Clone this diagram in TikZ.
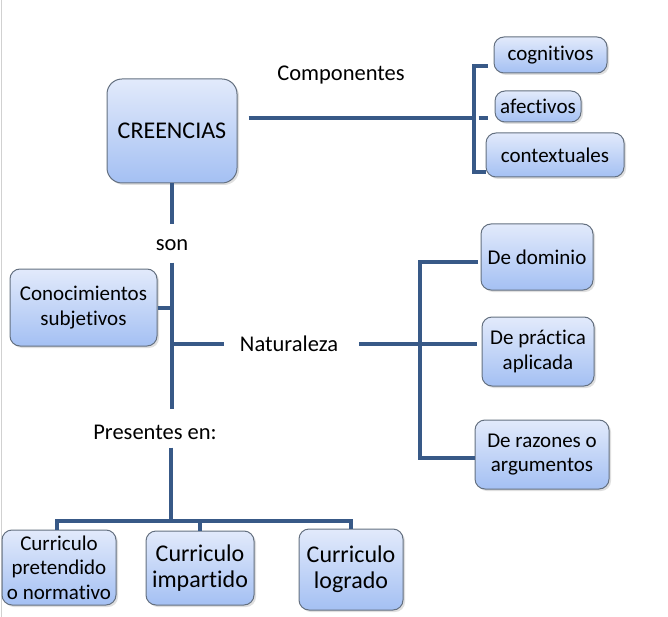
\documentclass[tikz,border=0pt]{standalone}
\usepackage{fontspec}
\setmainfont[Ligatures=NoCommon]{Carlito}
\usetikzlibrary{shadows}

\definecolor{linea}{RGB}{56,89,135}
\definecolor{borde}{RGB}{100,112,128}
\definecolor{arriba}{RGB}{226,234,251}
\definecolor{abajo}{RGB}{164,192,243}

\tikzset{
  caja/.style={draw=borde,line width=1pt,rounded corners=10pt,top color=arriba,bottom color=abajo,
    drop shadow={opacity=0.25,shadow xshift=2pt,shadow yshift=-2pt},
    align=center,inner sep=0pt,font=\fontsize{21}{24.5}\selectfont},
  grande/.style={font=\fontsize{24}{26}\selectfont},
  etiq/.style={inner sep=0pt,font=\fontsize{22.5}{26}\selectfont},
  conn/.style={draw=linea,line width=4pt}
}

\begin{document}
\begin{tikzpicture}[x=1pt,y=-1pt]
\useasboundingbox (0,0) rectangle (668,617);
\draw[black!18,line width=1pt] (1,0) -- (1,617);

% cajas
\node[caja,grande,minimum width=130,minimum height=104,rounded corners=15pt] (creencias) at (172,131) {CREENCIAS};
\node[caja,minimum width=113,minimum height=36] (cog) at (550.5,55) {cognitivos};
\node[caja,minimum width=86,minimum height=31] (afe) at (538,106.5) {afectivos};
\node[caja,minimum width=138,minimum height=44] (ctx) at (555,155) {contextuales};
\node[caja,minimum width=147,minimum height=77] (conoc) at (83.5,307.5) {Conocimientos\\subjetivos};
\node[caja,minimum width=112,minimum height=66] (dom) at (537,257) {De dominio};
\node[caja,minimum width=112,minimum height=69] (prac) at (538,351.5) {De práctica\\aplicada};
\node[caja,minimum width=134,minimum height=69] (raz) at (542,454.5) {De razones o\\argumentos};
\node[caja,minimum width=114,minimum height=75] (cpre) at (59,567.5) {Curriculo\\pretendido\\o normativo};
\node[caja,grande,minimum width=108,minimum height=74] (cimp) at (200,568) {Curriculo\\impartido};
\node[caja,grande,minimum width=104,minimum height=81] (clog) at (351,569.5) {Curriculo\\logrado};

% textos
\node[etiq] (comp) at (341,75) {Componentes};
\node[etiq] (son) at (172,245) {son};
\node[etiq] (nat) at (289,344) {Naturaleza};
\node[etiq] (pres) at (155,432) {Presentes en:};

% componentes
\coordinate (jc) at (474,118);
\draw[conn] ([xshift=11pt,yshift=13pt]creencias.east) -- (jc);
\draw[conn] ([xshift=-6pt,yshift=-11pt]cog.west) -| (jc) |- ([yshift=-17pt]ctx.west);
\draw[conn] ([xshift=-16pt,yshift=-11.5pt]afe.west) -- ([xshift=-7pt,yshift=-11.5pt]afe.west);

% son
\draw[conn,shorten >=15pt] (creencias.south) -- (son.north);
\draw[conn,shorten <=12pt,shorten >=15pt] (son.south) -- (son.south |- pres.north);
\draw[conn] (conoc.east) -- (conoc.east -| son.south);

% naturaleza
\coordinate (jn) at (420,343);
\draw[conn,shorten >=16pt] (nat.west -| son.south) -- (nat.west);
\draw[conn,shorten <=21pt,shorten >=5pt] (nat.east) -- (nat.east -| prac.west);
\draw[conn] ([xshift=-3pt,yshift=-5pt]dom.west) -| (jn) |- ([yshift=-3.5pt]raz.west);

% presentes en
\coordinate (jp) at (171,521);
\draw[conn,shorten <=8pt] (pres.south -| jp) -- (jp);
\draw[conn] ([xshift=-2pt]cpre.north) |- (jp) -| (clog.north);
\draw[conn] (cimp.north |- jp) -- (cimp.north);
\end{tikzpicture}
\end{document}
